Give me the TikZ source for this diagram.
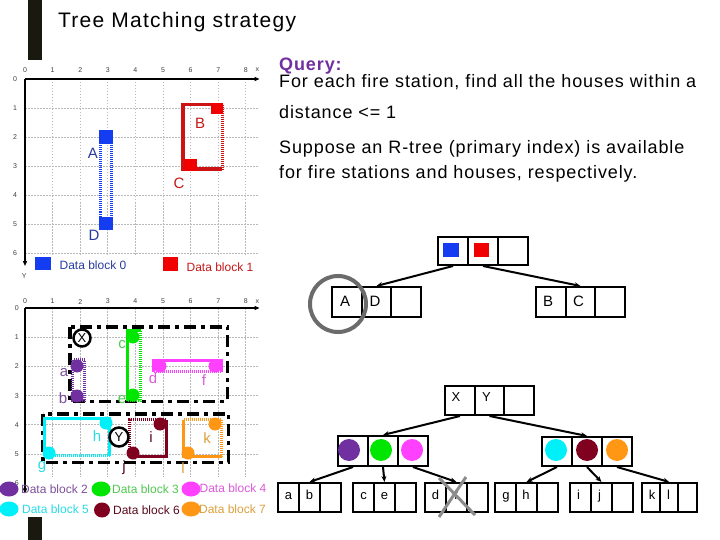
\documentclass[tikz,border=0pt]{standalone}
\usepackage{fontspec}
\setmainfont{Liberation Sans}
\newfontfamily\qfont[LetterSpace=5]{Liberation Sans}
\newfontfamily\tfont[LetterSpace=6]{Liberation Sans}
\usetikzlibrary{arrows.meta,shapes.geometric}
\definecolor{barc}{RGB}{25,25,15}
\definecolor{blueSq}{RGB}{20,60,240}
\definecolor{redSq}{RGB}{240,0,0}
\definecolor{redLn}{RGB}{205,20,20}
\definecolor{blueTx}{RGB}{40,60,160}
\definecolor{redTx}{RGB}{195,25,25}
\definecolor{cpur}{RGB}{112,48,160}
\definecolor{cgrn}{RGB}{0,230,0}
\definecolor{cmag}{RGB}{255,64,255}
\definecolor{ccyn}{RGB}{0,240,250}
\definecolor{cmar}{RGB}{128,0,32}
\definecolor{corg}{RGB}{255,150,20}
\definecolor{tpur}{RGB}{125,80,155}
\definecolor{tgrn}{RGB}{80,200,80}
\definecolor{tmag}{RGB}{220,90,220}
\definecolor{tcyn}{RGB}{40,220,230}
\definecolor{tmar}{RGB}{90,10,30}
\definecolor{torg}{RGB}{220,160,60}
\definecolor{qpur}{RGB}{112,48,160}
\begin{document}
\begin{tikzpicture}[x=1pt,y=-1pt,
  gridl/.style={gray!55, line width=0.8pt, dash pattern=on 1.5pt off 1.5pt},
  axisl/.style={black, line width=1.2pt, -{Triangle[length=5pt,width=4pt]}},
  tick/.style={font=\fontsize{7}{8}\selectfont, text=black!75, inner sep=0},
  lbl/.style={font=\fontsize{15}{17}\selectfont, inner sep=0},
  leg/.style={font=\fontsize{12}{14}\selectfont, inner sep=0},
  dotted3/.style={line width=3pt, dash pattern=on 1pt off 1pt},
  solid3/.style={line width=3pt},
  dashdot/.style={line width=3.5pt, black, dash pattern=on 12pt off 5pt on 4pt off 5pt},
  hdot/.style={circle, inner sep=0, minimum size=13pt},
  legell/.style={ellipse, inner sep=0, minimum width=19pt, minimum height=15pt},
  tcell/.style={draw, line width=2pt, inner sep=0, minimum width=#1, minimum height=29pt},
  tcell/.default=29.7pt,
  edge/.style={line width=2pt, -{Stealth[length=6pt,width=5pt]}},
  qtext/.style={anchor=base west, inner sep=0, font={\qfont\fontsize{18}{21}\selectfont}},
  treetx/.style={anchor=base, inner sep=0, font=\fontsize{15}{17}\selectfont},
  leaftx/.style={anchor=base, inner sep=0, font=\fontsize{13}{15}\selectfont},
  treecirc/.style={circle, inner sep=0, minimum size=22pt}
]
\useasboundingbox (0,0) rectangle (720,540);
\fill[white] (0,0) rectangle (720,540);

% title bars
\fill[barc] (28,0) rectangle (42,60);
\fill[barc] (28,517) rectangle (42,540);
\node[anchor=base west, inner sep=0, font={\tfont\fontsize{21}{24}\selectfont}] (title) at (58,28) {Tree Matching strategy};

% ---------------- top chart ----------------
\begin{scope}[shift={(25,79)}, x=27.6pt, y=-29pt]
  \foreach \i in {1,...,8} \draw[gridl] (\i,0) -- (\i,6.1);
  \foreach \j in {1,...,6} \draw[gridl] (0,\j) -- (8.45,\j);
  \draw[axisl] (0,0) -- (8.5,0);
  \draw[axisl] (0,0) -- (0,6.45);
  \foreach \i in {0,...,8} \node[tick] (tx\i) at (\i,-0.32) {\i};
  \node[tick] (txx) at (8.42,-0.32) {x};
  \foreach \j in {0,...,6} \node[tick] (ty\j) at (-0.36,\j) {\j};
  \node[tick] (tyy) at (-0.03,6.78) {Y};
\end{scope}

% A-D
\draw[blueSq, dotted3] (100.5,131.5) rectangle (111.5,228.5);
\fill[blueSq] (99,130) rectangle (113,144);
\fill[blueSq] (99,217) rectangle (113,230);
% B-C
\draw[redLn, line width=3.5pt] (222.25,104.75) -- (182.75,104.75) -- (182.75,169.25) -- (222.25,169.25);
\draw[redLn, line width=3.5pt, dash pattern=on 1pt off 1pt] (222.25,104.75) -- (222.25,169.25);
\fill[redSq] (211,103) rectangle (223,114);
\fill[redSq] (184,159) rectangle (197,171);
\node[lbl, text=blueTx] (lA) at (93,153) {A};
\node[lbl, text=blueTx] (lD) at (94,235) {D};
\node[lbl, text=redTx] (lB) at (200,123) {B};
\node[lbl, text=redTx] (lC) at (179,183) {C};
% legend top
\node[fill=blueSq, inner sep=0, minimum width=16pt, minimum height=13pt] (lg0) at (43,263.5) {};
\node[leg, text=blueTx] (lg0t) at (93,265) {Data block 0};
\node[fill=redSq, inner sep=0, minimum width=15pt, minimum height=14pt] (lg1) at (170.5,264) {};
\node[leg, text=redTx] (lg1t) at (220,267) {Data block 1};

% ---------------- bottom chart ----------------
\begin{scope}[shift={(25,308)}, x=27.6pt, y=-29.2pt]
  \foreach \i in {1,...,8} \draw[gridl] (\i,0) -- (\i,5.8);
  \foreach \j in {1,...,5} \draw[gridl] (0,\j) -- (8.45,\j);
  \draw[axisl] (0,0) -- (8.5,0);
  \draw[axisl] (0,0) -- (0,6.35);
  \foreach \i in {0,...,8} \node[tick] (bx\i) at (\i,-0.22) {\i};
  \node[tick] (bxx) at (8.42,-0.22) {x};
  \foreach \j in {0,...,6} \node[tick] (by\j) at (-0.3,\j) {\j};
\end{scope}

% X and Y MBRs
\draw[dashdot] (69.75,326.75) rectangle (227.25,401.25);
\draw[dashdot] (42.75,413.75) rectangle (228.25,462.25);

% purple a,b
\draw[cpur, dotted3] (72.5,359.5) rectangle (84.5,400.5);
\node[hdot, fill=cpur] (pa) at (77,366) {};
\node[hdot, fill=cpur] (pb) at (77,396) {};
% green c,e
\draw[cgrn, solid3] (140.5,330.5) -- (127.5,330.5) -- (127.5,400.5);
\draw[cgrn, dotted3] (127.5,400.5) -- (140.5,400.5) -- (140.5,330.5);
\node[hdot, fill=cgrn] (pc) at (133,337) {};
\node[hdot, fill=cgrn] (pe) at (133,395) {};
% magenta d,f
\draw[cmag, solid3] (153.5,371.5) -- (153.5,360.5) -- (221.5,360.5) -- (221.5,371.5);
\draw[cmag, dotted3] (153.5,371.5) -- (221.5,371.5);
\node[hdot, fill=cmag] (pd) at (160,366) {};
\node[hdot, fill=cmag] (pf) at (215,366) {};
% cyan g,h
\draw[ccyn, solid3] (44.5,455.5) -- (44.5,418.5) -- (109.5,418.5) -- (109.5,455.5);
\draw[ccyn, dotted3] (44.5,455.5) -- (109.5,455.5);
\node[hdot, fill=ccyn] (ph) at (106,423) {};
\node[hdot, fill=ccyn] (pg) at (49,453) {};
% maroon i,j
\draw[cmar, dotted3] (129.5,456.5) -- (129.5,419.5) -- (166.5,419.5);
\draw[cmar, solid3] (166.5,419.5) -- (166.5,456.5) -- (129.5,456.5);
\node[hdot, fill=cmar] (pi) at (160,424) {};
\node[hdot, fill=cmar] (pj) at (133,453) {};
% orange k,l
\draw[corg, dotted3] (183.5,419.5) -- (221.5,419.5) -- (221.5,456.5);
\draw[corg, solid3] (221.5,456.5) -- (183.5,456.5) -- (183.5,419.5);
\node[hdot, fill=corg] (pk) at (215,424) {};
\node[hdot, fill=corg] (pl) at (188,453) {};

% X, Y circles
\node[circle, draw, line width=2.5pt, fill=white, inner sep=0, minimum size=17pt, font=\fontsize{13}{15}\selectfont] (cX) at (82,338) {X};
\node[circle, draw, line width=2.5pt, fill=white, inner sep=0, minimum size=19pt, font=\fontsize{13}{15}\selectfont] (cY) at (119,437) {Y};

% labels bottom chart
\node[lbl, text=tpur] (ta) at (64,373) {a};
\node[lbl, text=tpur] (tb) at (63,398) {b};
\node[lbl, text=tgrn] (tc) at (122,345) {c};
\node[lbl, text=tgrn] (te) at (122,400) {e};
\node[lbl, text=tmag] (td) at (153,378) {d};
\node[lbl, text=tmag] (tf) at (204,380) {f};
\node[lbl, text=tcyn] (tg) at (42,467) {g};
\node[lbl, text=tcyn] (th) at (97,436) {h};
\node[lbl, text=tmar] (ti) at (151,437) {i};
\node[lbl, text=tmar] (tj) at (124,468) {j};
\node[lbl, text=torg] (tk) at (207,438) {k};
\node[lbl, text=torg] (tl) at (183,468) {l};

% legend bottom
\node[legell, fill=cpur] (e2) at (9,489) {};
\node[leg, text=tpur] (e2t) at (54.5,489) {Data block 2};
\node[legell, fill=cgrn] (e3) at (101,489) {};
\node[leg, text=tgrn] (e3t) at (145.5,489) {Data block 3};
\node[legell, fill=cmag] (e4) at (191,489) {};
\node[leg, text=tmag] (e4t) at (233,488) {Data block 4};
\node[legell, fill=ccyn] (e5) at (9,509) {};
\node[leg, text=tcyn] (e5t) at (55.5,509) {Data block 5};
\node[legell, fill=cmar, minimum width=16pt] (e6) at (102,510) {};
\node[leg, text=tmar] (e6t) at (146.5,510) {Data block 6};
\node[legell, fill=corg] (e7) at (191,509) {};
\node[leg, text=torg] (e7t) at (232.5,509) {Data block 7};

% ---------------- right text ----------------
\node[qtext, font={\qfont\bfseries\fontsize{18}{21}\selectfont}, text=qpur] (q0) at (279,70.7) {Query:};
\node[qtext] (q1) at (279,87.3) {For each fire station, find all the houses within a};
\node[qtext] (q2) at (279,119) {distance <= 1};
\node[qtext] (q3) at (279,154) {Suppose an R-tree (primary index) is available};
\node[qtext] (q4) at (279,178.3) {for fire stations and houses, respectively.};

% ---------------- top tree ----------------
\node[tcell=30pt, minimum height=28pt] (r0a) at (453,251) {};
\node[tcell=30pt, minimum height=28pt] (r0b) at (483,251) {};
\node[tcell=30pt, minimum height=28pt] (r0c) at (513,251) {};
\fill[blueSq] (443,243) rectangle (459,257);
\fill[redSq] (474,243) rectangle (489,257);
\node[tcell, minimum height=30pt] (l0a) at (347,302) {};
\node[tcell, minimum height=30pt] (l0b) at (376.5,302) {};
\node[tcell, minimum height=30pt] (l0c) at (406,302) {};
\node[tcell, minimum height=30pt] (m0a) at (551,302) {};
\node[tcell, minimum height=30pt] (m0b) at (580.5,302) {};
\node[tcell, minimum height=30pt] (m0c) at (610,302) {};
\node[treetx] (tA) at (345,306) {A};
\node[treetx] (tD) at (375,306) {D};
\node[treetx] (tB) at (548,306) {B};
\node[treetx] (tC) at (578.5,306) {C};
\draw[edge] (r0a.south) -- (l0b.north);
\draw[edge] (r0b.south) -- (m0b.north);
\node[circle, draw=black!58, line width=4pt, inner sep=0, minimum size=56pt] (gc) at (338,304) {};

% ---------------- bottom tree ----------------
\node[tcell] (r1a) at (460,400.5) {};
\node[tcell] (r1b) at (489.5,400.5) {};
\node[tcell] (r1c) at (519,400.5) {};
\node[anchor=base, inner sep=0, font=\fontsize{13}{15}\selectfont] (tX) at (456,401.7) {X};
\node[anchor=base, inner sep=0, font=\fontsize{13}{15}\selectfont] (tY) at (486.5,401.7) {Y};

\node[tcell=30pt, minimum height=30pt] (p1a) at (353,451) {};
\node[tcell=30pt, minimum height=30pt] (p1b) at (383,451) {};
\node[tcell=30pt, minimum height=30pt] (p1c) at (413,451) {};
\node[tcell=30pt] (q1a) at (557,451.5) {};
\node[tcell=30pt] (q1b) at (587,451.5) {};
\node[tcell=30pt] (q1c) at (617,451.5) {};
\node[treecirc, fill=cpur] (c1) at (349,450) {};
\node[treecirc, fill=cgrn] (c2) at (381,450) {};
\node[treecirc, fill=cmag] (c3) at (412,450) {};
\node[treecirc, fill=ccyn] (c4) at (556,450) {};
\node[treecirc, fill=cmar] (c5) at (587,450) {};
\node[treecirc, fill=corg] (c6) at (617,450) {};
\draw[edge] (r1a.south) -- (p1b.north);
\draw[edge] (r1b.south) -- (q1b.north);

% leaves
\foreach \n/\x in {La/288.5, Lb/309.5, Lc/330.5, Ma/363.5, Mb/384.5, Mc/405.5, Na/435.5, Nb/456.5, Nc/477.5,
                   Oa/505.5, Ob/526.5, Oc/547.5, Pa/580.5, Pb/601.5, Pc/622.5}
  \node[tcell=21pt] (\n) at (\x,497.5) {};
\node[tcell=18.3pt] (Qa) at (651,497.5) {};
\node[tcell=18.3pt] (Qb) at (669.3,497.5) {};
\node[tcell=18.3pt] (Qc) at (687.6,497.5) {};

\node[leaftx] (xa) at (288.5,499) {a};
\node[leaftx] (xb) at (309.5,499) {b};
\node[leaftx] (xc) at (363.5,499) {c};
\node[leaftx] (xe) at (384.5,499) {e};
\node[leaftx] (xd) at (435.5,499) {d};
\node[leaftx] (xf) at (456,499) {f};
\node[leaftx] (xg) at (506,499) {g};
\node[leaftx] (xh) at (526,499) {h};
\node[leaftx] (xi) at (578.5,499) {i};
\node[leaftx] (xj) at (599.5,499) {j};
\node[leaftx] (xk) at (652,499) {k};
\node[leaftx] (xl) at (668.5,499) {l};

\draw[edge] (p1a.south) -- (Lb.north);
\draw[edge] (p1b.south) -- (Mb.north);
\draw[edge] (p1c.south) -- (Nb.north);
\draw[edge] (q1a.south) -- (Ob.north);
\draw[edge] (q1b.south) -- (Pb.north);
\draw[edge] (q1c.south) -- (Qb.north);

% gray cross
\draw[black!45, line width=3pt] (439,478) -- (475,515);
\draw[black!45, line width=3pt] (466,477) -- (439,517);
\end{tikzpicture}
\end{document}
